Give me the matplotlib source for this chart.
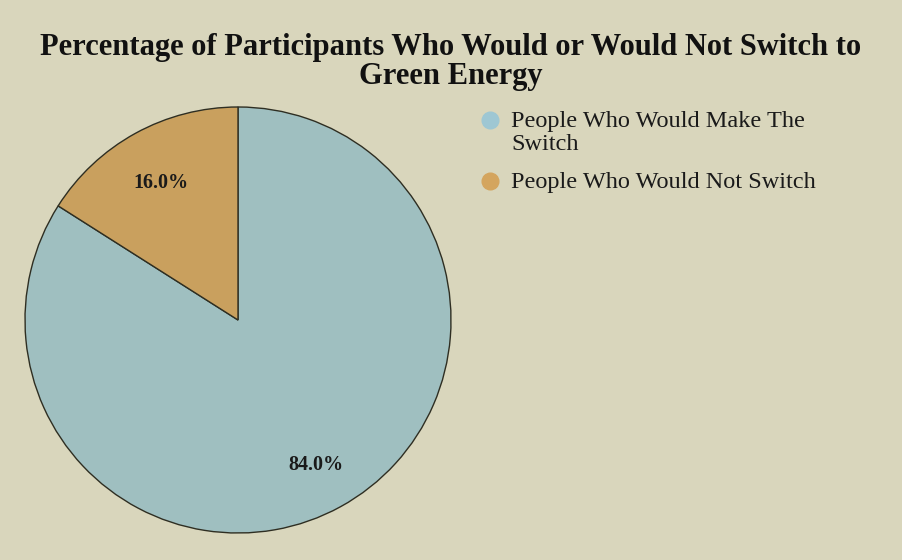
import matplotlib
matplotlib.use("Agg")
import matplotlib.pyplot as plt
from matplotlib.lines import Line2D
import matplotlib.transforms as mtransforms

categories = ["People Who Would Make The\nSwitch", "People Who Would Not Switch"]
values = [84.0, 16.0]
slice_colors = ["#9fbfc0", "#c9a05e"]
legend_colors = ["#9ec7d3", "#d4a55e"]
bg = "#d9d6bc"

plt.rcParams['font.family'] = ['Liberation Serif', 'DejaVu Serif']

fig = plt.figure(figsize=(9.02, 5.6), dpi=100, facecolor=bg)
W, H = 902, 560
cx, cy, r = 238, 320, 213
ax = fig.add_axes([(cx - r) / W, (H - cy - r) / H, 2 * r / W, 2 * r / H])
ax.set_facecolor(bg)
wedges, texts, autotexts = ax.pie(
    values, colors=slice_colors, startangle=90, counterclock=False,
    autopct='%1.1f%%', pctdistance=0.755, radius=1,
    wedgeprops=dict(edgecolor="#2e2e22", linewidth=1.0),
    textprops=dict(fontsize=14.5, fontweight='bold', color='#1a1a1a'))
shift = mtransforms.ScaledTranslation(0, -4 / 100, fig.dpi_scale_trans)
for t in autotexts:
    t.set_transform(t.get_transform() + shift)
ax.set_xlim(-1, 1)
ax.set_ylim(-1, 1)
ax.set_aspect('equal')
ax.axis('off')

fig.text(451 / W, 1 - 62 / H,
         "Percentage of Participants Who Would or Would Not Switch to\nGreen Energy",
         ha='center', va='center', fontsize=22, fontweight='bold',
         color='#111111', linespacing=1.0)

# legend (markers aligned with first line of each entry)
entry_baselines = [127, 188]
line_step = 23
for cat, col, base in zip(categories, legend_colors, entry_baselines):
    fig.add_artist(Line2D([490 / W], [1 - (base - 7.5) / H], marker='o',
                          linestyle='', markersize=12, markerfacecolor=col,
                          markeredgecolor=col, transform=fig.transFigure))
    for j, line in enumerate(cat.split("\n")):
        fig.text(511 / W, 1 - (base + j * line_step) / H, line,
                 ha='left', va='baseline', fontsize=17.5, color='#1a1a1a')

fig.savefig("out.png", dpi=100, facecolor=bg)
